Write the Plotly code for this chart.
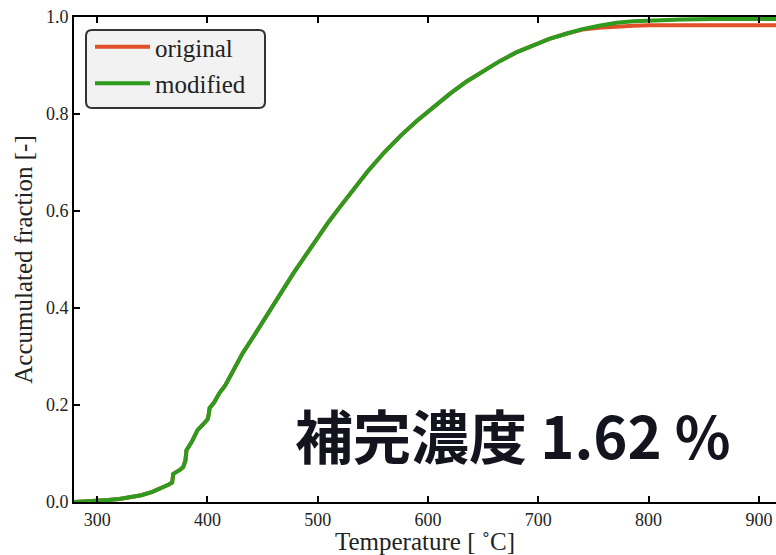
import plotly.graph_objects as go

temperature = [279, 290, 300, 310, 320, 330, 340, 350, 358, 365, 368, 369, 375, 378, 380, 381, 386, 391, 396, 400,
               401, 402, 406, 411, 416, 422, 427, 432, 440, 448, 455, 463, 470, 478, 490, 500, 510, 520, 532, 545,
               560, 575, 590, 605, 620, 635, 650, 665, 680, 695, 710, 726, 740, 755, 771, 786, 801, 830, 860, 890, 920]
modified = [0.0, 0.001, 0.002, 0.004, 0.006, 0.009, 0.014, 0.021, 0.028, 0.036, 0.040, 0.058, 0.066, 0.072, 0.085,
            0.107, 0.125, 0.148, 0.160, 0.170, 0.178, 0.194, 0.205, 0.225, 0.240, 0.266, 0.285, 0.307, 0.335, 0.363,
            0.390, 0.417, 0.443, 0.472, 0.512, 0.546, 0.578, 0.608, 0.644, 0.681, 0.720, 0.755, 0.786, 0.814, 0.842,
            0.867, 0.889, 0.909, 0.927, 0.942, 0.955, 0.966, 0.975, 0.982, 0.988, 0.991, 0.993, 0.995, 0.996, 0.996, 0.996]
original = [0.0, 0.001, 0.002, 0.004, 0.006, 0.009, 0.014, 0.021, 0.028, 0.036, 0.040, 0.058, 0.066, 0.072, 0.085,
            0.107, 0.125, 0.148, 0.160, 0.170, 0.178, 0.194, 0.205, 0.225, 0.240, 0.266, 0.285, 0.307, 0.335, 0.363,
            0.390, 0.417, 0.443, 0.472, 0.512, 0.546, 0.578, 0.608, 0.644, 0.681, 0.720, 0.755, 0.786, 0.814, 0.842,
            0.867, 0.889, 0.909, 0.927, 0.942, 0.955, 0.966, 0.974, 0.978, 0.981, 0.982, 0.983, 0.983, 0.983, 0.983, 0.983]
x_ticks = [300, 400, 500, 600, 700, 800, 900]
y_ticks = [0.0, 0.2, 0.4, 0.6, 0.8, 1.0]
label_text = "補完濃度 1.62 %"

serif = "Liberation Serif, Times New Roman, serif"

fig = go.Figure()
fig.add_trace(go.Scatter(x=temperature, y=original, mode="lines", name="original",
                         line=dict(color="#e0502a", width=4), legendgroup="a"))
fig.add_trace(go.Scatter(x=temperature, y=modified, mode="lines", name="modified",
                         line=dict(color="#2e9a1e", width=4), legendgroup="b"))

W, H = 776, 555
L, R, T, B = 74, 0, 17, 53
pw, ph = W - L - R, H - T - B

def px_x(p):
    return (p - L) / pw

def px_y(p):
    return (H - B - p) / ph

# rounded legend frame
x0, x1 = px_x(86), px_x(265)
y0, y1 = px_y(108), px_y(30)
rx, ry = 6 / pw, 6 / ph
path = (f"M {x0+rx},{y0} L {x1-rx},{y0} Q {x1},{y0} {x1},{y0+ry} L {x1},{y1-ry} Q {x1},{y1} {x1-rx},{y1} "
        f"L {x0+rx},{y1} Q {x0},{y1} {x0},{y1-ry} L {x0},{y0+ry} Q {x0},{y0} {x0+rx},{y0} Z")
fig.add_shape(type="path", path=path, xref="paper", yref="paper",
              fillcolor="#f2f2f2", line=dict(color="#333333", width=2), layer="above")

fig.add_annotation(text=label_text, xref="paper", yref="paper", x=px_x(513), y=px_y(434),
                   showarrow=False, xanchor="center", yanchor="middle",
                   font=dict(family="Noto Sans CJK JP", size=58, color="#14141f", weight="bold"))

fig.update_layout(
    width=W, height=H,
    margin=dict(l=L, r=R, t=T, b=B),
    paper_bgcolor="white", plot_bgcolor="white",
    showlegend=True,
    legend=dict(x=px_x(90), y=px_y(24), xanchor="left", yanchor="top",
                bgcolor="rgba(0,0,0,0)", borderwidth=0,
                font=dict(family=serif, size=25, color="#222"),
                tracegroupgap=1, itemwidth=55),
    xaxis=dict(range=[279, 915.5], tickvals=x_ticks, ticks="inside", ticklen=6, tickwidth=2,
               tickcolor="black", showline=True, linecolor="black", linewidth=2, mirror="ticks",
               showgrid=False, zeroline=False,
               tickfont=dict(family=serif, size=18, color="#222"),
               title=dict(text="Temperature [ ˚C]", font=dict(family=serif, size=25, color="#222"), standoff=4)),
    yaxis=dict(range=[0, 1], tickvals=y_ticks, tickformat=".1f", ticks="inside", ticklen=6, tickwidth=2,
               tickcolor="black", showline=True, linecolor="black", linewidth=2,
               showgrid=False, zeroline=False,
               tickfont=dict(family=serif, size=18, color="#222"),
               title=dict(text="Accumulated fraction [-]", font=dict(family=serif, size=25, color="#222"), standoff=6)),
)

fig.write_html("out.html")
